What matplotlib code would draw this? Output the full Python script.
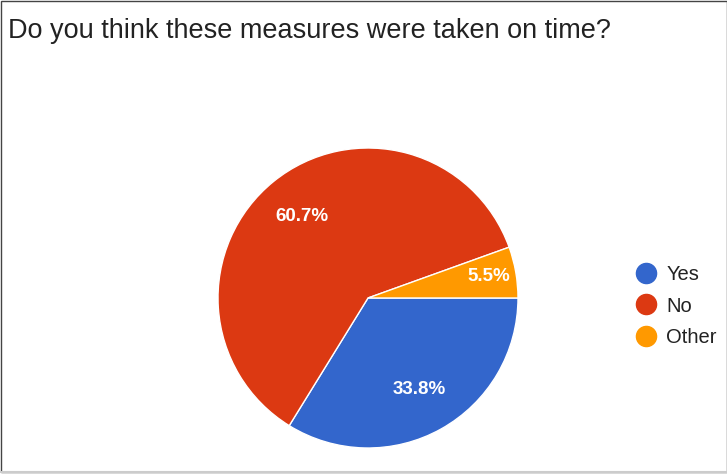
import numpy as np
import matplotlib.pyplot as plt
from matplotlib.lines import Line2D
from matplotlib.patches import Rectangle

title = "Do you think these measures were taken on time?"
labels = ["Yes", "No", "Other"]
shares = [33.8, 60.7, 5.5]
colors = ["#3366cc", "#dc3912", "#ff9900"]

plt.rcParams["font.family"] = ["Liberation Sans", "DejaVu Sans"]

W, H = 727, 475
fig = plt.figure(figsize=(W / 100, H / 100), dpi=100)
ax = fig.add_axes([0, 0, 1, 1])

cx, cy, r = 368, H - 298, 150
wedges, texts, autotexts = ax.pie(
    shares, colors=colors, startangle=0, counterclock=False,
    center=(cx, cy), radius=r, autopct="%.1f%%", pctdistance=0.7,
    wedgeprops=dict(edgecolor="white", linewidth=1),
    textprops=dict(color="white", fontsize=13.5, fontweight="bold"),
    frame=True,
)
ax.set_xlim(0, W)
ax.set_ylim(0, H)
ax.set_aspect("equal")
ax.axis("off")

# the thin slice gets its label pushed further out
w = wedges[2]
mid = np.deg2rad((w.theta1 + w.theta2) / 2)
autotexts[2].set_position((cx + 0.82 * r * np.cos(mid), cy + 0.82 * r * np.sin(mid)))

fig.text(8 / W, 1 - 38 / H, title, fontsize=19.5, color="#222222", va="baseline")

handles = [Line2D([], [], marker="o", linestyle="none", markersize=14.5,
                  markerfacecolor=c, markeredgecolor=c) for c in colors]
fig.legend(handles, labels, loc="center left", bbox_to_anchor=(626 / W, 1 - 306 / H),
           frameon=False, fontsize=14.5, handletextpad=0.5, labelspacing=0.62,
           handlelength=1.0, labelcolor="#222222", borderpad=0)

# outer border
ax.add_patch(Rectangle((1, 3), W - 1, H - 4, fill=False, edgecolor="#444444", linewidth=1))
ax.plot([1, W], [3, 3], color="#cccccc", linewidth=1.5)

fig.savefig("out.png", dpi=100)
